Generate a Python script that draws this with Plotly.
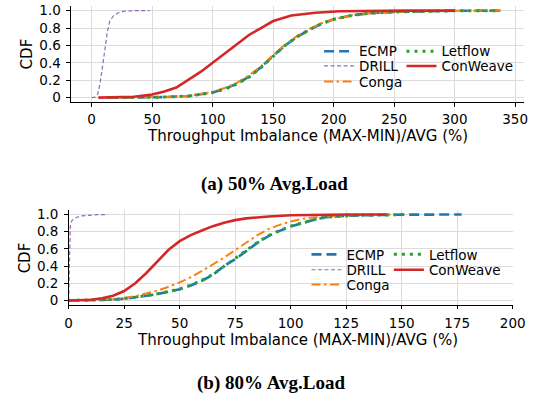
import plotly.graph_objects as go

# ---------------- data: (a) 50% Avg.Load ----------------
ecmp50_x = [13, 40, 60, 80, 100, 110, 120, 130, 140, 150, 160, 170, 180, 190, 200, 215, 230, 250, 275, 300, 338]
ecmp50_y = [0, 0.002, 0.006, 0.018, 0.06, 0.1, 0.16, 0.24, 0.35, 0.48, 0.6, 0.7, 0.78, 0.85, 0.9, 0.945, 0.97, 0.985, 0.993, 0.998, 1.0]
drill50_x = [0, 3, 5, 7, 9, 11, 13, 15, 18, 22, 27, 35, 48]
drill50_y = [0, 0.005, 0.04, 0.17, 0.36, 0.57, 0.76, 0.88, 0.94, 0.975, 0.993, 0.999, 1.0]
conga50_x = [13, 40, 60, 80, 100, 110, 120, 130, 140, 150, 160, 170, 180, 190, 200, 215, 230, 250, 275, 300, 338]
conga50_y = [0, 0.002, 0.007, 0.02, 0.065, 0.11, 0.17, 0.255, 0.36, 0.49, 0.61, 0.71, 0.79, 0.855, 0.9, 0.945, 0.97, 0.985, 0.993, 0.998, 1.0]
letflow50_x = [13, 40, 60, 80, 100, 110, 120, 130, 140, 150, 160, 170, 180, 190, 200, 215, 230, 250, 275, 300, 338]
letflow50_y = [0, 0.002, 0.006, 0.017, 0.058, 0.098, 0.155, 0.235, 0.345, 0.475, 0.6, 0.7, 0.78, 0.85, 0.9, 0.945, 0.97, 0.985, 0.993, 0.998, 1.0]
conweave50_x = [5.5, 20, 35, 50, 60, 70, 80, 90, 100, 110, 120, 130, 140, 150, 165, 185, 205, 230, 260, 300]
conweave50_y = [0, 0.003, 0.01, 0.035, 0.07, 0.115, 0.2, 0.295, 0.40, 0.51, 0.615, 0.72, 0.80, 0.88, 0.944, 0.975, 0.992, 0.998, 1.0, 1.0]

# ---------------- data: (b) 80% Avg.Load ----------------
ecmp80_x = [0, 10, 20, 25, 30, 35, 40, 45, 50, 55, 60, 65, 70, 75, 80, 85, 90, 95, 100, 105, 110, 115, 120, 130, 140, 150, 177]
ecmp80_y = [0, 0.002, 0.01, 0.02, 0.035, 0.055, 0.075, 0.1, 0.13, 0.175, 0.23, 0.3, 0.4, 0.48, 0.58, 0.67, 0.75, 0.81, 0.86, 0.9, 0.935, 0.965, 0.978, 0.99, 0.996, 0.999, 1.0]
drill80_x = [0, 0.2, 0.4, 0.7, 1, 1.5, 2.5, 4, 6, 9, 13, 17.5]
drill80_y = [0, 0.4, 0.7, 0.85, 0.9, 0.93, 0.955, 0.972, 0.985, 0.994, 0.998, 1.0]
conga80_x = [0, 10, 20, 25, 30, 35, 40, 45, 50, 55, 60, 65, 70, 75, 80, 85, 90, 95, 100, 105, 110, 120, 130, 145]
conga80_y = [0, 0.003, 0.015, 0.028, 0.05, 0.08, 0.115, 0.16, 0.21, 0.27, 0.34, 0.42, 0.5, 0.59, 0.68, 0.76, 0.83, 0.88, 0.92, 0.95, 0.965, 0.985, 0.995, 1.0]
letflow80_x = [0, 10, 20, 25, 30, 35, 40, 45, 50, 55, 60, 65, 70, 75, 80, 85, 90, 95, 100, 105, 110, 115, 120, 130, 140, 153]
letflow80_y = [0, 0.002, 0.011, 0.021, 0.036, 0.056, 0.077, 0.102, 0.133, 0.178, 0.235, 0.305, 0.4, 0.485, 0.585, 0.675, 0.755, 0.815, 0.865, 0.905, 0.938, 0.965, 0.978, 0.99, 0.996, 1.0]
conweave80_x = [0, 5, 10, 15, 20, 25, 30, 35, 40, 45, 50, 55, 60, 65, 70, 75, 80, 90, 100, 110, 125, 143]
conweave80_y = [0, 0.003, 0.008, 0.025, 0.055, 0.11, 0.2, 0.32, 0.46, 0.59, 0.69, 0.76, 0.815, 0.865, 0.905, 0.935, 0.955, 0.978, 0.992, 0.997, 1.0, 1.0]

top_xticks = [0, 50, 100, 150, 200, 250, 300, 350]
bot_xticks = [0, 25, 50, 75, 100, 125, 150, 175, 200]
y_ticks = [0, 0.2, 0.4, 0.6, 0.8, 1.0]
y_ticklabels = ["0", "0.2", "0.4", "0.6", "0.8", "1.0"]
series_names = ["ECMP", "DRILL", "Conga", "Letflow", "ConWeave"]
x_title = "Throughput Imbalance (MAX-MIN)/AVG (%)"
captions = ["(a) 50% Avg.Load", "(b) 80% Avg.Load"]

# ---------------- styling ----------------
W, H = 557, 402
FONT = "DejaVu Sans"
styles = {
    "ECMP": dict(color="#1f77b4", width=2.6, dash="10px,5px"),
    "DRILL": dict(color="#9467bd", width=1.2, dash="4px,2.5px"),
    "Conga": dict(color="#ff7f0e", width=2.0, dash="9px,3.5px,2.5px,3.5px"),
    "Letflow": dict(color="#2ca02c", width=3.0, dash="3px,5px"),
    "ConWeave": dict(color="#d62728", width=2.6, dash="solid"),
}


def px_dom_x(l, r):
    return [l / W, r / W]


def px_dom_y(t, b):
    return [1 - b / H, 1 - t / H]


fig = go.Figure()

panels = [
    dict(xa="x", ya="y", data=[(ecmp50_x, ecmp50_y), (drill50_x, drill50_y), (conga50_x, conga50_y),
                               (letflow50_x, letflow50_y), (conweave50_x, conweave50_y)],
         leg_start=1,
         leg_pos=[(325, 48.3), (325, 63.3), (325, 79.0), (410, 48.3), (410, 63.3)]),
    dict(xa="x2", ya="y2", data=[(ecmp80_x, ecmp80_y), (drill80_x, drill80_y), (conga80_x, conga80_y),
                                 (letflow80_x, letflow80_y), (conweave80_x, conweave80_y)],
         leg_start=6,
         leg_pos=[(312, 255.0), (312, 270.7), (312, 285.7), (397, 255.0), (397, 270.7)]),
]

for p in panels:
    for i, (name, (xs, ys)) in enumerate(zip(series_names, p["data"])):
        n = p["leg_start"] + i
        lname = "legend" if n == 1 else f"legend{n}"
        fig.add_trace(go.Scatter(
            x=xs, y=ys, mode="lines", name=name,
            line=styles[name], xaxis=p["xa"], yaxis=p["ya"],
            legend=lname, showlegend=True, hoverinfo="skip",
        ))
        lx, ly = p["leg_pos"][i]
        fig.update_layout(**{lname: dict(
            x=lx / W, y=1 - ly / H, xanchor="left", yanchor="middle",
            bgcolor="rgba(0,0,0,0)", borderwidth=0,
            font=dict(family=FONT, size=13.5, color="black"),
            orientation="v",
        )})

axis_common = dict(
    showline=True, linecolor="black", linewidth=1.2, mirror=False,
    ticks="outside", ticklen=3.5, tickwidth=1, tickcolor="black",
    showgrid=True, gridcolor="#dcdcdc", gridwidth=1, zeroline=False,
    tickfont=dict(family=FONT, size=13.5, color="black"),
)

fig.update_layout(
    width=W, height=H, margin=dict(l=0, r=0, t=0, b=0),
    paper_bgcolor="white", plot_bgcolor="white",
    xaxis=dict(domain=px_dom_x(69.2, 536), range=[-17, 357], tickvals=top_xticks,
               anchor="y", ticklabelstandoff=1, **axis_common),
    yaxis=dict(domain=px_dom_y(2.3, 99.7), range=[-0.05, 1.05], tickvals=y_ticks,
               ticktext=y_ticklabels, anchor="x", ticklabelstandoff=3, **axis_common),
    xaxis2=dict(domain=px_dom_x(66.7, 524.7), range=[0, 200], tickvals=bot_xticks,
                anchor="y2", ticklabelstandoff=2, **axis_common),
    yaxis2=dict(domain=px_dom_y(209.9, 306.1), range=[-0.05, 1.05], tickvals=y_ticks,
                ticktext=y_ticklabels, anchor="x2", ticklabelstandoff=3, **axis_common),
)

annotations = []
# x-axis titles
for cx, cy in [((69.2 + 536) / 2 + 10, 134), ((66.7 + 524.7) / 2 + 7, 342)]:
    annotations.append(dict(text=x_title, x=cx / W, y=1 - cy / H, xref="paper", yref="paper",
                            xanchor="center", yanchor="middle", showarrow=False,
                            font=dict(family=FONT, size=15, color="black")))
# y-axis titles
for cx, cy in [(24, 51), (21.5, 258)]:
    annotations.append(dict(text="CDF", x=cx / W, y=1 - cy / H, xref="paper", yref="paper",
                            xanchor="center", yanchor="middle", showarrow=False, textangle=-90,
                            font=dict(family=FONT, size=15, color="black")))
# captions
for cap, (cx, cy) in zip(captions, [(278.5, 183), (275.5, 386)]):
    annotations.append(dict(text=f"<b>{cap}</b>", x=cx / W, y=1 - cy / H, xref="paper", yref="paper",
                            xanchor="center", yanchor="middle", showarrow=False,
                            font=dict(family="Liberation Serif", size=19, color="black")))
fig.update_layout(annotations=annotations)

fig.write_html("out.html")
